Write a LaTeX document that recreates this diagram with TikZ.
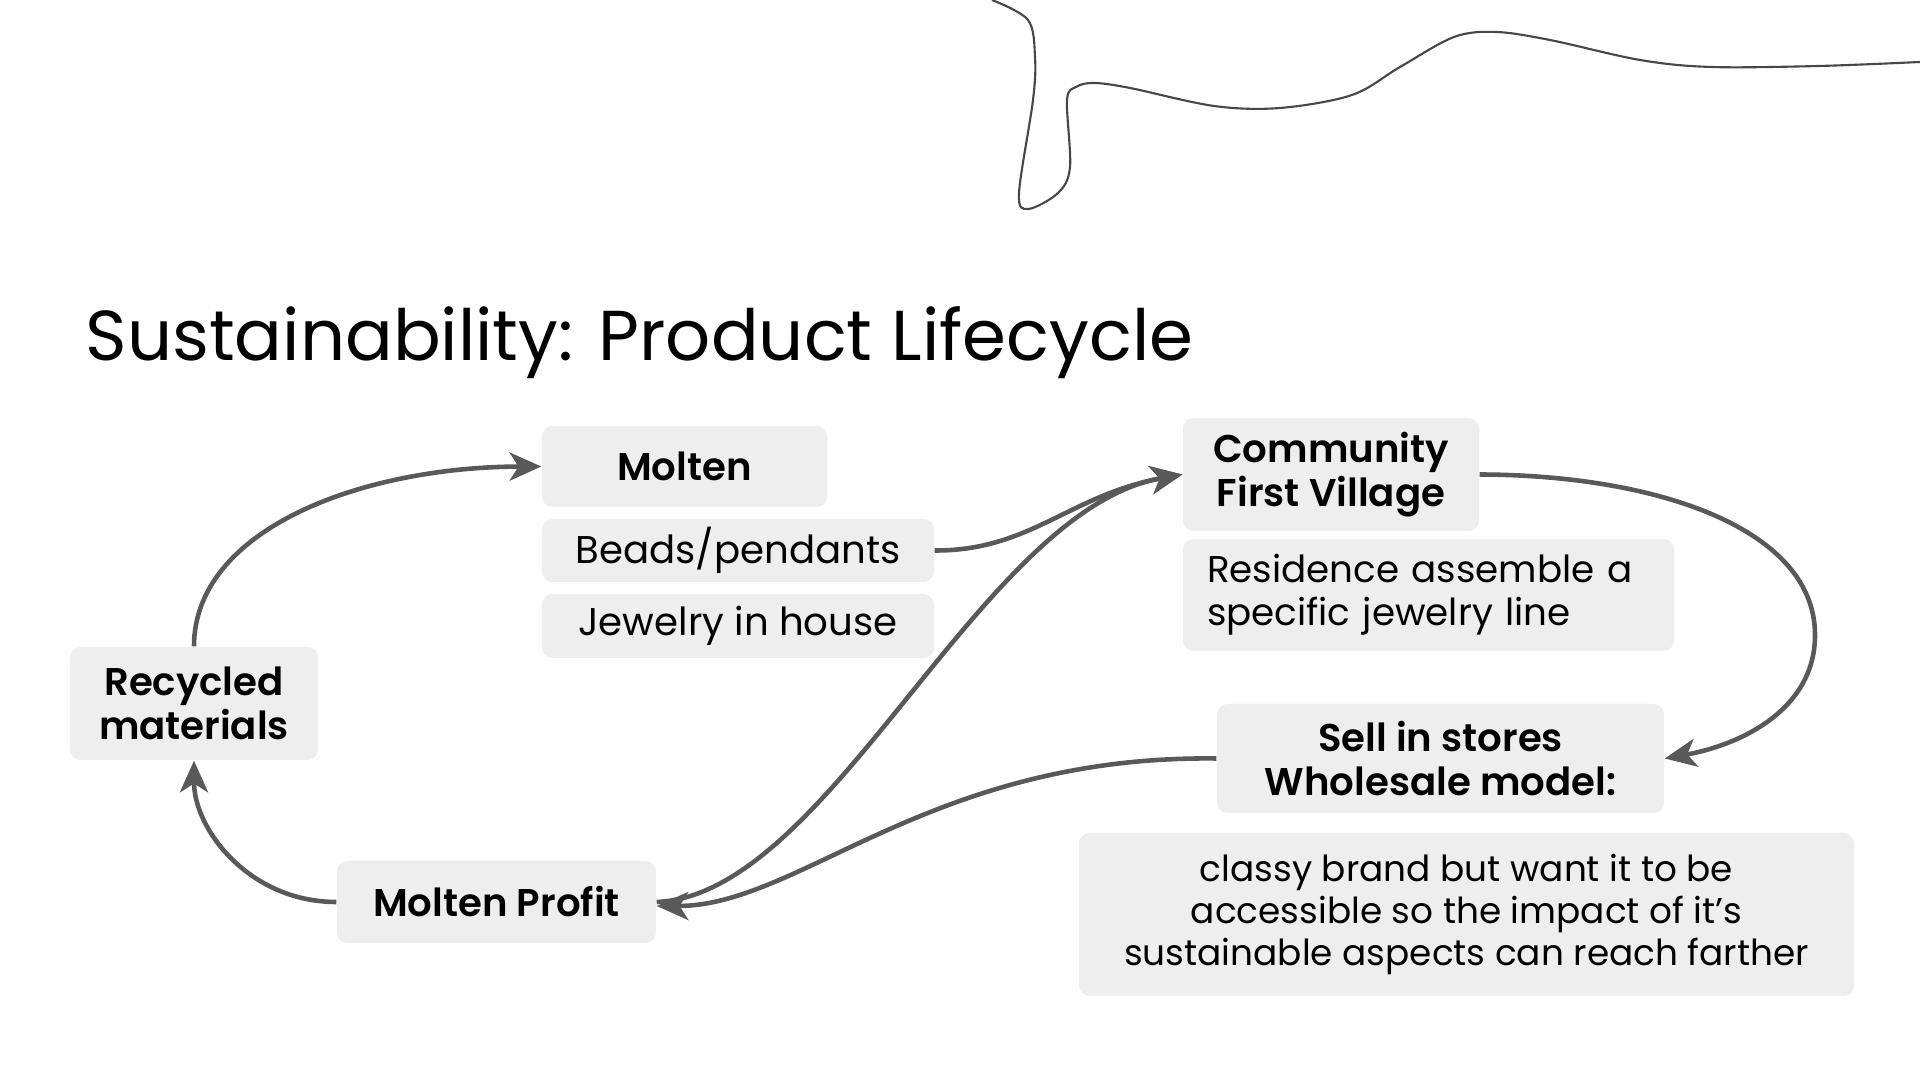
\documentclass[tikz,border=0pt]{standalone}
\usepackage{fontspec}
\setmainfont{Poppins}[BoldFont={Poppins SemiBold}]
\usetikzlibrary{arrows.meta}
\definecolor{boxgray}{HTML}{EEEEEE}
\definecolor{flowgray}{HTML}{595959}
\definecolor{linegray}{HTML}{474747}
\tikzset{
  box/.style={fill=boxgray, rounded corners=3pt, inner sep=0pt, align=center, font=\fontsize{11}{12.5}\selectfont},
  boldbox/.style={box, font=\fontsize{11}{12.5}\selectfont\bfseries},
  flow/.style={draw=flowgray, line width=1.3pt, -{Stealth[length=9pt, width=8pt, inset=2.5pt]}}
}
\begin{document}
\begin{tikzpicture}
	\useasboundingbox[fill=white] (0,0) rectangle (19.2,10.8);
	% squiggle at the top
	\draw[linegray, line width=0.6pt] plot[smooth, tension=0.55] coordinates {(9.92,10.80) (10.28,10.60) (10.35,10.23) (10.33,9.80) (10.19,8.87) (10.28,8.71) (10.58,8.87) (10.70,9.13) (10.67,9.80) (10.76,9.93) (10.94,9.97) (11.30,9.92) (12.14,9.74) (12.80,9.72) (13.52,9.85) (14.00,10.13) (14.54,10.43) (14.96,10.48) (15.50,10.40) (16.40,10.20) (17.11,10.13) (18.19,10.14) (19.20,10.18)};
	\node[anchor=base west, inner sep=0pt, font=\fontsize{20.1}{24}\selectfont] (title) at (0.85,7.19) {Sustainability: Product Lifecycle};
	% boxes
	\node[boldbox, minimum width=2.85cm, minimum height=0.81cm] (molten) at (6.845,6.135) {Molten};
	\node[box, minimum width=3.92cm, minimum height=0.63cm] (beads) at (7.38,5.295) {Beads/pendants};
	\node[box, minimum width=3.92cm, minimum height=0.64cm] (jewelry) at (7.38,4.54) {Jewelry in house};
	\node[boldbox, minimum width=2.48cm, minimum height=1.13cm] (recycled) at (1.94,3.765) {Recycled\\materials};
	\node[boldbox, minimum width=3.19cm, minimum height=0.82cm] (profit) at (4.965,1.78) {Molten Profit};
	\node[boldbox, minimum width=2.96cm, minimum height=1.13cm] (community) at (13.31,6.055) {Community\\First Village};
	\node[box, align=left, text width=4.43cm, inner xsep=0.24cm, minimum height=1.12cm, font=\fontsize{10.6}{12.3}\selectfont] (residence) at (14.285,4.85) {Residence assemble a\\specific jewelry line};
	\node[boldbox, minimum width=4.47cm, minimum height=1.09cm] (sell) at (14.405,3.215) {Sell in stores\\Wholesale model:};
	\node[box, minimum width=7.75cm, minimum height=1.63cm, font=\fontsize{10.2}{12}\selectfont] (classy) at (14.665,1.655) {classy brand but want it to be\\accessible so the impact of it’s\\sustainable aspects can reach farther};
	% cycle
	\draw[flow] (recycled.north) .. controls (1.94,5.5) and (3.6,6.13) .. (molten.west);
	\draw[flow] (profit.west) .. controls (2.5,1.78) and (1.94,2.5) .. (recycled.south);
	\draw[flow] (beads.east) .. controls (10.3,5.29) and (10.7,5.85) .. (community.west);
	\draw[flow] (profit.east) .. controls (8.3,1.85) and (9.8,5.7) .. (community.west);
	\draw[flow] (community.east) .. controls (16.6,6.05) and (18.15,5.5) .. (18.15,4.45) .. controls (18.15,3.7) and (17.4,3.35) .. (sell.east);
	\draw[flow] (sell.west) .. controls (9.3,3.25) and (8.0,1.74) .. ([yshift=-0.04cm]profit.east);
\end{tikzpicture}
\end{document}
